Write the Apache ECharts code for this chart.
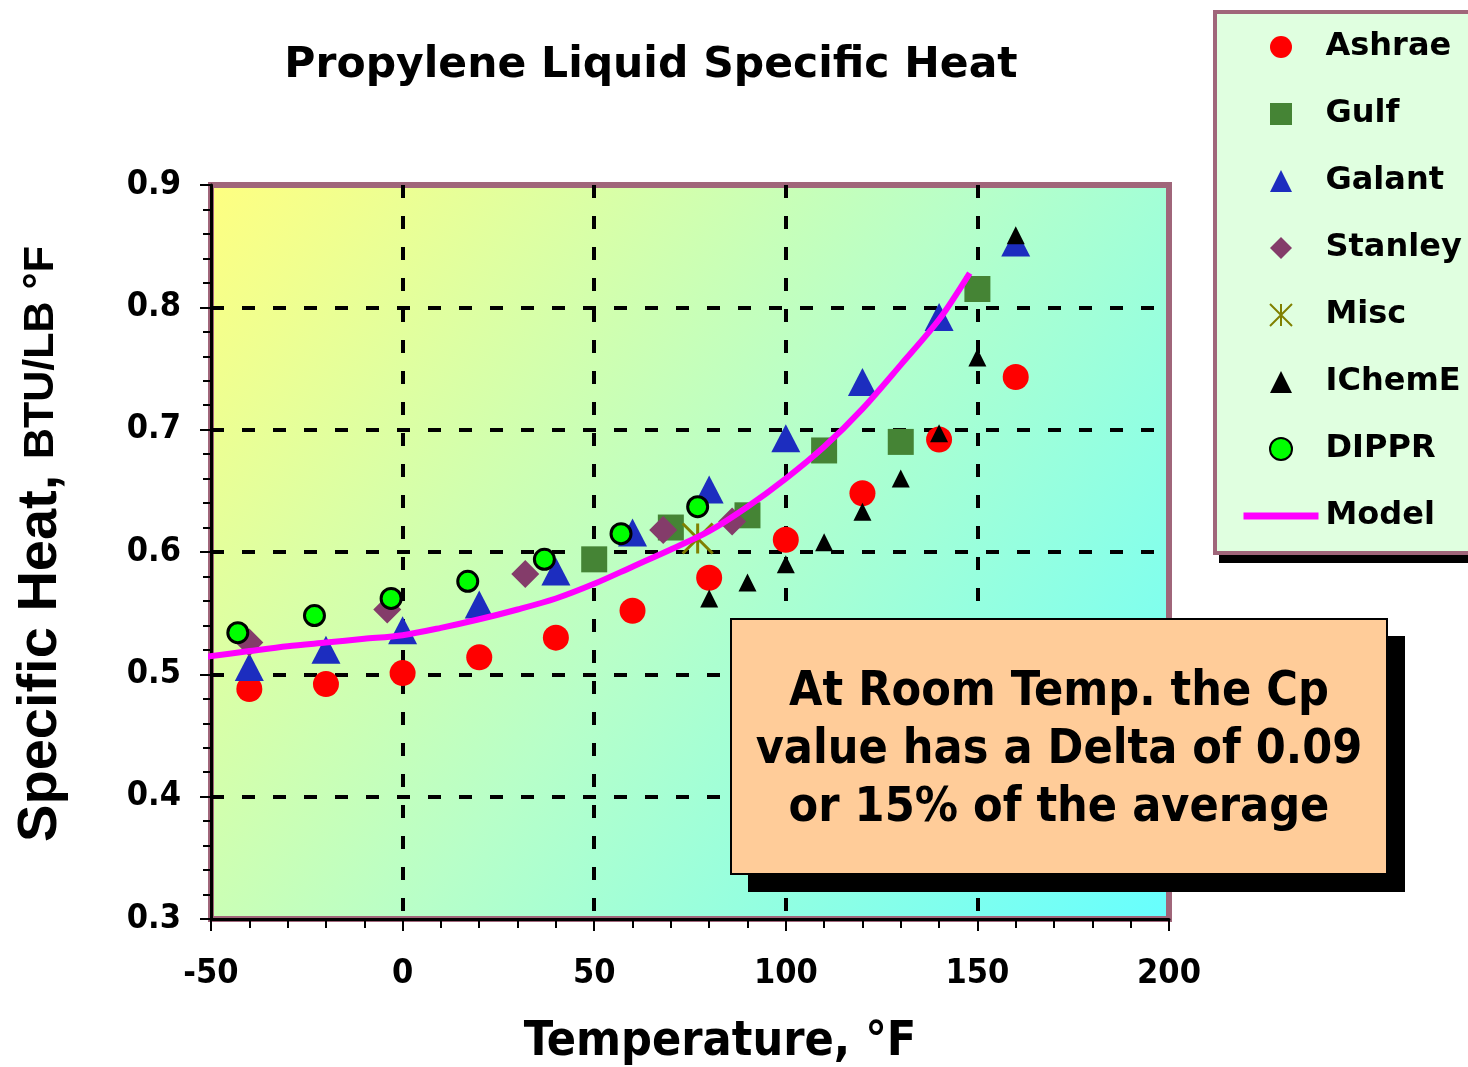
<!DOCTYPE html>
<html>
<head>
<meta charset="utf-8">
<title>Propylene Liquid Specific Heat</title>
<script src="https://cdn.jsdelivr.net/npm/echarts@6/dist/echarts.min.js"></script>
<style>
  html, body { margin: 0; padding: 0; background: #ffffff; }
  #chart { width: 1468px; height: 1067px; }
</style>
</head>
<body>
<div id="chart"></div>
<script>
// data (temperature in F, Cp in BTU/LB F)
const ashraeT = [-40, -20, 0, 20, 40, 60, 80, 100, 120, 140, 160]
const ashraeCp = [0.488, 0.492, 0.501, 0.514, 0.530, 0.552, 0.579, 0.610, 0.648, 0.692, 0.743]
const gulfT = [50, 70, 90, 110, 130, 150]
const gulfCp = [0.594, 0.620, 0.630, 0.683, 0.690, 0.815]
const galantT = [-40, -20, 0, 20, 40, 60, 80, 100, 120, 140, 160]
const galantCp = [0.506, 0.520, 0.536, 0.557, 0.584, 0.616, 0.651, 0.693, 0.739, 0.792, 0.853]
const stanleyT = [-40, -4, 32, 68, 86]
const stanleyCp = [0.526, 0.553, 0.582, 0.618, 0.625]
const miscT = [77]
const miscCp = [0.611]
const ichemeT = [80, 90, 100, 110, 120, 130, 140, 150, 160]
const ichemeCp = [0.562, 0.575, 0.590, 0.608, 0.633, 0.660, 0.697, 0.759, 0.859]
const dipprT = [-43, -23, -3, 17, 37, 57, 77]
const dipprCp = [0.534, 0.548, 0.562, 0.576, 0.594, 0.615, 0.637]
const modelT = [-52, -40, -30, -20, -10, 0, 10, 20, 30, 40, 50, 60, 70, 80, 90, 100, 110, 120, 130, 140, 148]
const modelCp = [0.514, 0.519, 0.523, 0.526, 0.529, 0.532, 0.538, 0.545, 0.553, 0.562, 0.574, 0.588, 0.602, 0.617, 0.637, 0.660, 0.686, 0.717, 0.753, 0.790, 0.828]

const legendOrder = ['Ashrae', 'Gulf', 'Galant', 'Stanley', 'Misc', 'IChemE', 'DIPPR', 'Model']
const noteLines = ['At Room Temp. the Cp', 'value has a Delta of 0.09', 'or 15% of the average']

const wide = 'DejaVu Sans'
const narrow = 'DejaVu Sans Condensed'

// path symbols keep their aspect in the legend
const SYM = {
  circle: 'path://M50,0A50,50,0,1,1,50,100A50,50,0,1,1,50,0Z',
  square: 'path://M0,0H10V10H0Z',
  triangle: 'path://M5,0L10,10L0,10Z',
  diamond: 'path://M5,0L10,5L5,10L0,5Z',
  star: 'path://M0,0L10,10M10,0L0,10M5,0L5,10'
}

function pairs(xs, ys) {
  return xs.map((x, i) => [x, ys[i]])
}

function scatter(name, xs, ys, symbol, size, itemStyle) {
  return {
    name: name,
    type: 'scatter',
    data: pairs(xs, ys),
    symbol: symbol,
    symbolSize: size,
    itemStyle: Object.assign({ opacity: 1 }, itemStyle),
    emphasis: { disabled: true }
  }
}

const gridLine = {
  show: true,
  showMinLine: false,
  showMaxLine: false,
  lineStyle: { color: '#000', width: 4, type: [13, 18] }
}

const option = {
  animation: false,
  backgroundColor: '#ffffff',
  grid: {
    left: 211,
    top: 185,
    right: 299,
    bottom: 148,
    show: true,
    borderColor: '#a0667a',
    borderWidth: 6,
    backgroundColor: new echarts.graphic.LinearGradient(0, 0, 1, 1, [
      { offset: 0, color: '#ffff80' },
      { offset: 0.5, color: '#b8ffc8' },
      { offset: 1, color: '#66ffff' }
    ])
  },
  xAxis: {
    type: 'value',
    min: -50,
    max: 200,
    interval: 50,
    axisLine: { onZero: false, lineStyle: { color: '#000', width: 3 } },
    axisTick: { show: true, length: 12, lineStyle: { color: '#000', width: 2 } },
    minorTick: { show: true, splitNumber: 5, length: 9, lineStyle: { color: '#000', width: 2 } },
    axisLabel: {
      margin: 38,
      color: '#000',
      fontFamily: narrow,
      fontWeight: 'bold',
      fontSize: 34,
      formatter: (v) => String(v)
    },
    splitLine: gridLine
  },
  yAxis: {
    type: 'value',
    min: 0.3,
    max: 0.9,
    interval: 0.1,
    axisLine: { show: true, onZero: false, lineStyle: { color: '#000', width: 3 } },
    axisTick: { show: true, length: 11, lineStyle: { color: '#000', width: 2 } },
    minorTick: { show: true, splitNumber: 5, length: 8, lineStyle: { color: '#000', width: 2 } },
    axisLabel: {
      margin: 30,
      color: '#000',
      fontFamily: narrow,
      fontWeight: 'bold',
      fontSize: 34,
      formatter: (v) => v.toFixed(1)
    },
    splitLine: gridLine,
    name: '{a|Specific Heat, }{b|BTU/LB °F}',
    nameLocation: 'middle',
    nameRotate: 90,
    nameGap: 142,
    nameTextStyle: {
      padding: [0, 0, 0, 16],
      rich: {
        a: { fontFamily: 'Liberation Sans', fontWeight: 'bold', fontSize: 56, color: '#000' },
        b: { fontFamily: 'Liberation Sans', fontWeight: 'bold', fontSize: 43, color: '#000' }
      }
    }
  },
  legend: {
    orient: 'vertical',
    left: 1240,
    top: 30,
    padding: 0,
    itemWidth: 75,
    itemHeight: 22,
    itemGap: 33,
    z: 10,
    data: legendOrder.map((n) => n === 'Model'
      ? { name: n, itemStyle: { opacity: 0 }, lineStyle: { width: 7, color: '#ff00ff' } }
      : n),
    textStyle: {
      color: '#000',
      fontFamily: wide,
      fontWeight: 'bold',
      fontSize: 32,
      lineHeight: 34,
      padding: [0, 0, 0, 2]
    }
  },
  graphic: [
    {
      type: 'text',
      x: 651,
      y: 66,
      z: 100,
      style: {
        text: 'Propylene Liquid Specific Heat',
        fill: '#000',
        font: 'bold 42.5px "DejaVu Sans"',
        textAlign: 'center',
        textVerticalAlign: 'middle'
      }
    },
    {
      type: 'text',
      x: 720,
      y: 1043,
      z: 100,
      style: {
        text: 'Temperature, °F',
        fill: '#000',
        font: 'bold 48px "DejaVu Sans Condensed"',
        textAlign: 'center',
        textVerticalAlign: 'middle'
      }
    },
    {
      // legend frame shadow
      type: 'rect',
      z: 1,
      shape: { x: 1219, y: 18, width: 300, height: 545 },
      style: { fill: '#000' }
    },
    {
      // legend frame
      type: 'rect',
      z: 2,
      shape: { x: 1215, y: 12, width: 300, height: 541 },
      style: { fill: '#e0ffe0', stroke: '#a0667a', lineWidth: 4 }
    },
    {
      type: 'rect',
      z: 100,
      shape: { x: 748, y: 636, width: 657, height: 256 },
      style: { fill: '#000' }
    },
    {
      type: 'rect',
      z: 101,
      shape: { x: 731, y: 619, width: 656, height: 255 },
      style: { fill: '#ffcc99', stroke: '#000', lineWidth: 2 }
    },
    {
      type: 'text',
      z: 102,
      x: 1059,
      y: 751,
      style: {
        text: noteLines.join('\n'),
        fill: '#000',
        font: 'bold 48px "DejaVu Sans Condensed"',
        lineHeight: 58,
        textAlign: 'center',
        textVerticalAlign: 'middle'
      }
    }
  ],
  series: [
    {
      name: 'Model',
      type: 'line',
      data: pairs(modelT, modelCp),
      symbol: 'none',
      smooth: 0.3,
      clip: false,
      lineStyle: { color: '#ff00ff', width: 6 },
      itemStyle: { color: '#ff00ff' },
      emphasis: { disabled: true }
    },
    scatter('Ashrae', ashraeT, ashraeCp, SYM.circle, 26, { color: '#ff0000' }),
    scatter('Gulf', gulfT, gulfCp, SYM.square, 26, { color: '#458435' }),
    scatter('Galant', galantT, galantCp, SYM.triangle, [29, 28], { color: '#1c2dbf' }),
    scatter('Stanley', stanleyT, stanleyCp, SYM.diamond, [28, 28], { color: '#843c6a' }),
    scatter('Misc', miscT, miscCp, SYM.star, 30,
      { color: 'rgba(0,0,0,0)', borderColor: '#808000', borderWidth: 3 }),
    scatter('IChemE', ichemeT, ichemeCp, SYM.triangle, [18, 18], { color: '#000' }),
    scatter('DIPPR', dipprT, dipprCp, SYM.circle, 20, { color: '#00ff00', borderColor: '#000', borderWidth: 3 })
  ]
}

const myChart = echarts.init(document.getElementById('chart'))
myChart.setOption(option)
window.addEventListener('resize', () => {
  if (myChart) {
    myChart.resize()
  }
})
</script>
</body>
</html>
